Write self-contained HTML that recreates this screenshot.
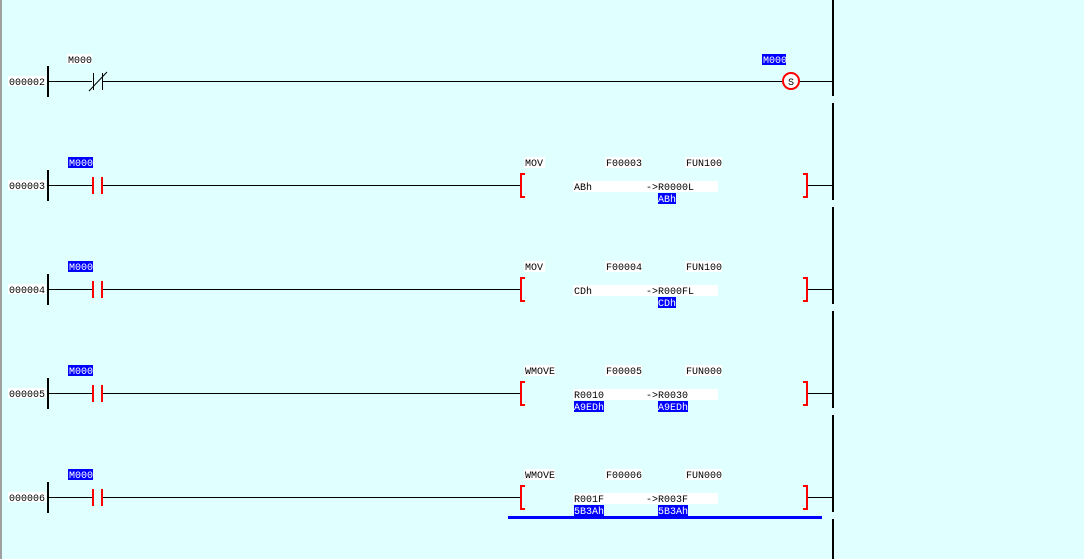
<!DOCTYPE html>
<html><head><style>
body{margin:0;background:#e0ffff;}
svg{display:block;font-family:"Liberation Mono",monospace;font-size:10px;}
</style></head><body>
<svg width="1084" height="559" viewBox="0 0 1084 559">
<rect width="1084" height="559" fill="#e0ffff"/>
<rect x="0" y="0" width="2" height="559" fill="#a0a0a0"/>
<!-- right rail -->
<g fill="#000">
<rect x="832" y="0" width="2" height="96"/>
<rect x="832" y="103" width="2" height="97"/>
<rect x="832" y="207" width="2" height="97"/>
<rect x="832" y="311" width="2" height="97"/>
<rect x="832" y="415" width="2" height="97"/>
<rect x="832" y="519" width="2" height="40"/>
</g>

<!-- rung 2 -->
<g>
<rect x="8" y="76" width="38" height="10" fill="#fff"/><text x="9" y="85">000002</text>
<rect x="47" y="66" width="2" height="31" fill="#000"/>
<line x1="49" y1="81.5" x2="783" y2="81.5" stroke="#000"/>
<line x1="799" y1="81.5" x2="832" y2="81.5" stroke="#000"/>
<rect x="67" y="54" width="25" height="10" fill="#fff"/><text x="68" y="63">M000</text>
<rect x="92" y="73" width="2" height="17" fill="#e0ffff"/>
<rect x="93" y="73" width="9" height="17" fill="#e0ffff"/>
<line x1="93.5" y1="73" x2="93.5" y2="90" stroke="#000"/>
<line x1="102.5" y1="73" x2="102.5" y2="90" stroke="#000"/>
<line x1="89" y1="91" x2="107" y2="72" stroke="#000"/>
<rect x="762" y="54" width="24" height="11" fill="#0000ff"/><text x="763" y="63" fill="#fff">M000</text>
<circle cx="791" cy="81" r="8" fill="#fff" stroke="#f00" stroke-width="2"/>
<text x="788" y="85">S</text>
</g>

<!-- generic rungs -->
<g id="r3">
<rect x="8" y="180" width="38" height="10" fill="#fff"/><text x="9" y="189">000003</text>
<rect x="47" y="170" width="2" height="31" fill="#000"/>
<line x1="49" y1="185.5" x2="522" y2="185.5" stroke="#000"/>
<line x1="807" y1="185.5" x2="832" y2="185.5" stroke="#000"/>
<rect x="68" y="157" width="25" height="11" fill="#0000ff"/><text x="69" y="166" fill="#fff">M000</text>
<rect x="93" y="177" width="9" height="17" fill="#e0ffff"/>
<rect x="92" y="177" width="2" height="17" fill="#f00"/><rect x="101" y="177" width="2" height="17" fill="#f00"/>
<path d="M525 174H521V197H525" fill="none" stroke="#f00" stroke-width="2"/>
<path d="M803 174H807V197H803" fill="none" stroke="#f00" stroke-width="2"/>
<rect x="524" y="157" width="21" height="11" fill="#fff"/><text x="525" y="166">MOV</text>
<rect x="605" y="157" width="37" height="11" fill="#fff"/><text x="606" y="166">F00003</text>
<rect x="685" y="157" width="37" height="11" fill="#fff"/><text x="686" y="166">FUN100</text>
<rect x="573" y="181" width="145" height="11" fill="#fff"/>
<text x="574" y="190">ABh</text><text x="646" y="190">-&gt;R0000L</text>
<rect x="658" y="193" width="18" height="11" fill="#0000ff"/><text x="658" y="202" fill="#fff">ABh</text>
</g>

<g>
<rect x="8" y="284" width="38" height="10" fill="#fff"/><text x="9" y="293">000004</text>
<rect x="47" y="274" width="2" height="31" fill="#000"/>
<line x1="49" y1="289.5" x2="522" y2="289.5" stroke="#000"/>
<line x1="807" y1="289.5" x2="832" y2="289.5" stroke="#000"/>
<rect x="68" y="261" width="25" height="11" fill="#0000ff"/><text x="69" y="270" fill="#fff">M000</text>
<rect x="93" y="281" width="9" height="17" fill="#e0ffff"/>
<rect x="92" y="281" width="2" height="17" fill="#f00"/><rect x="101" y="281" width="2" height="17" fill="#f00"/>
<path d="M525 278H521V301H525" fill="none" stroke="#f00" stroke-width="2"/>
<path d="M803 278H807V301H803" fill="none" stroke="#f00" stroke-width="2"/>
<rect x="524" y="261" width="21" height="11" fill="#fff"/><text x="525" y="270">MOV</text>
<rect x="605" y="261" width="37" height="11" fill="#fff"/><text x="606" y="270">F00004</text>
<rect x="685" y="261" width="37" height="11" fill="#fff"/><text x="686" y="270">FUN100</text>
<rect x="573" y="285" width="145" height="11" fill="#fff"/>
<text x="574" y="294">CDh</text><text x="646" y="294">-&gt;R000FL</text>
<rect x="658" y="297" width="18" height="11" fill="#0000ff"/><text x="658" y="306" fill="#fff">CDh</text>
</g>

<g>
<rect x="8" y="388" width="38" height="10" fill="#fff"/><text x="9" y="397">000005</text>
<rect x="47" y="378" width="2" height="31" fill="#000"/>
<line x1="49" y1="393.5" x2="522" y2="393.5" stroke="#000"/>
<line x1="807" y1="393.5" x2="832" y2="393.5" stroke="#000"/>
<rect x="68" y="365" width="25" height="11" fill="#0000ff"/><text x="69" y="374" fill="#fff">M000</text>
<rect x="93" y="385" width="9" height="17" fill="#e0ffff"/>
<rect x="92" y="385" width="2" height="17" fill="#f00"/><rect x="101" y="385" width="2" height="17" fill="#f00"/>
<path d="M525 382H521V405H525" fill="none" stroke="#f00" stroke-width="2"/>
<path d="M803 382H807V405H803" fill="none" stroke="#f00" stroke-width="2"/>
<rect x="524" y="365" width="31" height="11" fill="#fff"/><text x="525" y="374">WMOVE</text>
<rect x="605" y="365" width="37" height="11" fill="#fff"/><text x="606" y="374">F00005</text>
<rect x="685" y="365" width="37" height="11" fill="#fff"/><text x="686" y="374">FUN000</text>
<rect x="573" y="389" width="145" height="11" fill="#fff"/>
<text x="574" y="398">R0010</text><text x="646" y="398">-&gt;R0030</text>
<rect x="574" y="401" width="30" height="11" fill="#0000ff"/><text x="574" y="410" fill="#fff">A9EDh</text>
<rect x="658" y="401" width="30" height="11" fill="#0000ff"/><text x="658" y="410" fill="#fff">A9EDh</text>
</g>

<g>
<rect x="8" y="492" width="38" height="10" fill="#fff"/><text x="9" y="501">000006</text>
<rect x="47" y="482" width="2" height="31" fill="#000"/>
<line x1="49" y1="497.5" x2="522" y2="497.5" stroke="#000"/>
<line x1="807" y1="497.5" x2="832" y2="497.5" stroke="#000"/>
<rect x="68" y="469" width="25" height="11" fill="#0000ff"/><text x="69" y="478" fill="#fff">M000</text>
<rect x="93" y="489" width="9" height="17" fill="#e0ffff"/>
<rect x="92" y="489" width="2" height="17" fill="#f00"/><rect x="101" y="489" width="2" height="17" fill="#f00"/>
<path d="M525 486H521V509H525" fill="none" stroke="#f00" stroke-width="2"/>
<path d="M803 486H807V509H803" fill="none" stroke="#f00" stroke-width="2"/>
<rect x="524" y="469" width="31" height="11" fill="#fff"/><text x="525" y="478">WMOVE</text>
<rect x="605" y="469" width="37" height="11" fill="#fff"/><text x="606" y="478">F00006</text>
<rect x="685" y="469" width="37" height="11" fill="#fff"/><text x="686" y="478">FUN000</text>
<rect x="573" y="493" width="145" height="11" fill="#fff"/>
<text x="574" y="502">R001F</text><text x="646" y="502">-&gt;R003F</text>
<rect x="574" y="505" width="30" height="11" fill="#0000ff"/><text x="574" y="514" fill="#fff">5B3Ah</text>
<rect x="658" y="505" width="30" height="11" fill="#0000ff"/><text x="658" y="514" fill="#fff">5B3Ah</text>
<rect x="508" y="516" width="314" height="3" fill="#0000ff"/>
</g>
</svg>
</body></html>
